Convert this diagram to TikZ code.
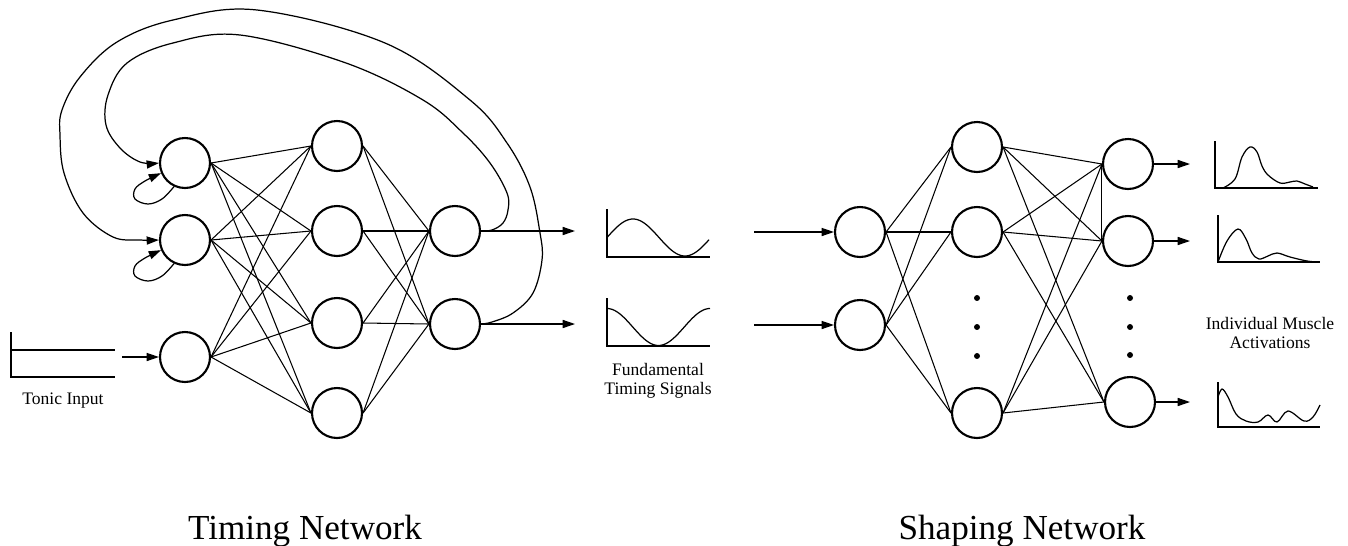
\documentclass[tikz,border=0pt]{standalone}
\usepackage{fontspec}
\setmainfont{Liberation Serif}
\usetikzlibrary{arrows.meta}

\begin{document}
\begin{tikzpicture}[
  x=0.02cm, y=-0.02cm,
  neuron/.style={circle, draw, line width=1.2pt, minimum size=1cm, inner sep=0pt},
  link/.style={line width=0.6pt},
  arrow/.style={->, >={Triangle[length=7pt, width=4.6pt]}, line width=0.7pt},
  axis/.style={line width=0.8pt},
  signal/.style={line width=0.7pt},
  caption/.style={font=\fontsize{10}{11}\selectfont, align=center},
  title/.style={font=\fontsize{20}{24}\selectfont, anchor=base}
]
\useasboundingbox (0,0) rectangle (1348,545);

% timing network
\node[neuron] (osc1) at (185,163) {};
\node[neuron] (osc2) at (185,240) {};
\node[neuron] (ton) at (185,357) {};
\node[neuron] (th1) at (337,146) {};
\node[neuron] (th2) at (337,231) {};
\node[neuron] (th3) at (337,323) {};
\node[neuron] (th4) at (337,413) {};
\node[neuron] (tout1) at (455,231) {};
\node[neuron] (tout2) at (455,324) {};

% shaping network
\node[neuron] (sin1) at (860,232) {};
\node[neuron] (sin2) at (860,325) {};
\node[neuron] (sh1) at (977,147) {};
\node[neuron] (sh2) at (977,232) {};
\node[neuron] (sh3) at (977,413) {};
\node[neuron] (mus1) at (1128,164) {};
\node[neuron] (mus2) at (1128,241) {};
\node[neuron] (mus3) at (1130,402) {};

% free ends of the arrows
\coordinate (tonicend) at (122,357);
\coordinate (fund1) at (575,231);
\coordinate (fund2) at (575,324);
\coordinate (feed1) at (754,232);
\coordinate (feed2) at (754,325);
\coordinate (act1) at (1190,164);
\coordinate (act2) at (1190,241);
\coordinate (act3) at (1190,402);

% timing links
\draw[link] (osc1.east) -- (th1.west);
\draw[link] (osc1.east) -- (th2.west);
\draw[link] (osc1.east) -- (th3.west);
\draw[link] (osc1.east) -- (th4.west);
\draw[link] (osc2.east) -- (th1.west);
\draw[link] (osc2.east) -- (th2.west);
\draw[link] (osc2.east) -- (th3.west);
\draw[link] (osc2.east) -- (th4.west);
\draw[link] (ton.east) -- (th1.west);
\draw[link] (ton.east) -- (th2.west);
\draw[link] (ton.east) -- (th3.west);
\draw[link] (ton.east) -- (th4.west);
\draw[link] (th1.east) -- (tout1.west);
\draw[link] (th1.east) -- (tout2.west);
\draw[link] (th2.east) -- (tout1.west);
\draw[link] (th2.east) -- (tout2.west);
\draw[link] (th3.east) -- (tout1.west);
\draw[link] (th3.east) -- (tout2.west);
\draw[link] (th4.east) -- (tout1.west);
\draw[link] (th4.east) -- (tout2.west);

% feedback loops
\draw[arrow] plot[smooth, tension=0.6] coordinates {(tout1.east) (492,230) (503,223) (508,210) (507,193) (490,163) (463,133) (423,100) (346,63) (240,35) (173,43) (127,63) (108,95) (106,125) (120,148) (140,162) (osc1.west)};
\draw[arrow] plot[smooth, tension=0.6] coordinates {(tout2.east) (492,322) (513,313) (533,293) (542,260) (540,233) (530,187) (507,143) (470,100) (385,43) (257,10) (173,20) (117,42) (80,77) (62,110) (60,135) (64,173) (83,213) (113,237) (140,240) (osc2.west)};
\draw[arrow] plot[smooth, tension=0.6] coordinates {(osc1.245) (162,199) (148,204) (135,199) (135,189) (145,181) (osc1.203)};
\draw[arrow] plot[smooth, tension=0.6] coordinates {(osc2.245) (162,276) (148,281) (135,276) (135,266) (145,258) (osc2.203)};

% input and output arrows
\draw[arrow] (tonicend) -- (ton.west);
\draw[arrow] (tout1.east) -- (fund1);
\draw[arrow] (tout2.east) -- (fund2);
\draw[arrow] (feed1) -- (sin1.west);
\draw[arrow] (feed2) -- (sin2.west);
\draw[arrow] (mus1.east) -- (act1);
\draw[arrow] (mus2.east) -- (act2);
\draw[arrow] (mus3.east) -- (act3);

% shaping links
\draw[link] (sin1.east) -- (sh1.west);
\draw[link] (sin1.east) -- (sh2.west);
\draw[link] (sin1.east) -- (sh3.west);
\draw[link] (sin2.east) -- (sh1.west);
\draw[link] (sin2.east) -- (sh2.west);
\draw[link] (sin2.east) -- (sh3.west);
\draw[link] (sh1.east) -- (mus1.west);
\draw[link] (sh1.east) -- (mus2.west);
\draw[link] (sh1.east) -- (mus3.west);
\draw[link] (sh2.east) -- (mus1.west);
\draw[link] (sh2.east) -- (mus2.west);
\draw[link] (sh2.east) -- (mus3.west);
\draw[link] (sh3.east) -- (mus1.west);
\draw[link] (sh3.east) -- (mus2.west);
\draw[link] (sh3.east) -- (mus3.west);
\draw[link] (mus1.west) -- (mus2.west);

% dots
\fill (977,298) circle[radius=1.7pt];
\fill (977,327) circle[radius=1.7pt];
\fill (977,356) circle[radius=1.7pt];
\fill (1130,298) circle[radius=1.7pt];
\fill (1130,327) circle[radius=1.7pt];
\fill (1130,355) circle[radius=1.7pt];

% tonic input
\draw[axis] (11,332) -- (11,377) -- (115,377);
\draw[signal] (11,350) -- (115,350);
\node[caption] (toniclabel) at (63,401) {Tonic Input};

% fundamental timing signals
\draw[axis] (607,209) -- (607,257) -- (710,257);
\draw[signal] plot[domain=607:709, samples=60] (\x, {237.5-18.5*sin(3.4615*(\x-607))});
\draw[axis] (607,298) -- (607,346) -- (710,346);
\draw[signal] plot[domain=607:710, samples=60] (\x, {327-18.5*cos(3.4951*(\x-607))});
\node[caption] (fundlabel) at (658,381) {Fundamental\\Timing Signals};

% muscle activations
\draw[axis] (1215,141) -- (1215,188) -- (1318,188);
\draw[signal] plot[smooth, tension=0.6] coordinates {(1223,188) (1235,179) (1242,157) (1250,147) (1257,152) (1262,166) (1268,175) (1280,183) (1290,182) (1297,181) (1305,184) (1313,187)};
\draw[axis] (1218,215) -- (1218,262) -- (1320,262);
\draw[signal] plot[smooth, tension=0.6] coordinates {(1218,262) (1227,241) (1238,229) (1246,239) (1252,253) (1259,259) (1268,256) (1277,253) (1290,257) (1307,261) (1318,262)};
\draw[axis] (1218,382) -- (1218,427) -- (1320,427);
\draw[signal] plot[smooth, tension=0.6] coordinates {(1218,397) (1222,389) (1228,397) (1236,414) (1246,421) (1258,422) (1268,415) (1277,422) (1288,411) (1304,421) (1313,417) (1320,405)};
\node[caption] (muslabel) at (1270,333) {Individual Muscle\\Activations};

% titles
\node[title] (timingtitle) at (305,539) {Timing Network};
\node[title] (shapingtitle) at (1022,539) {Shaping Network};
\end{tikzpicture}
\end{document}
